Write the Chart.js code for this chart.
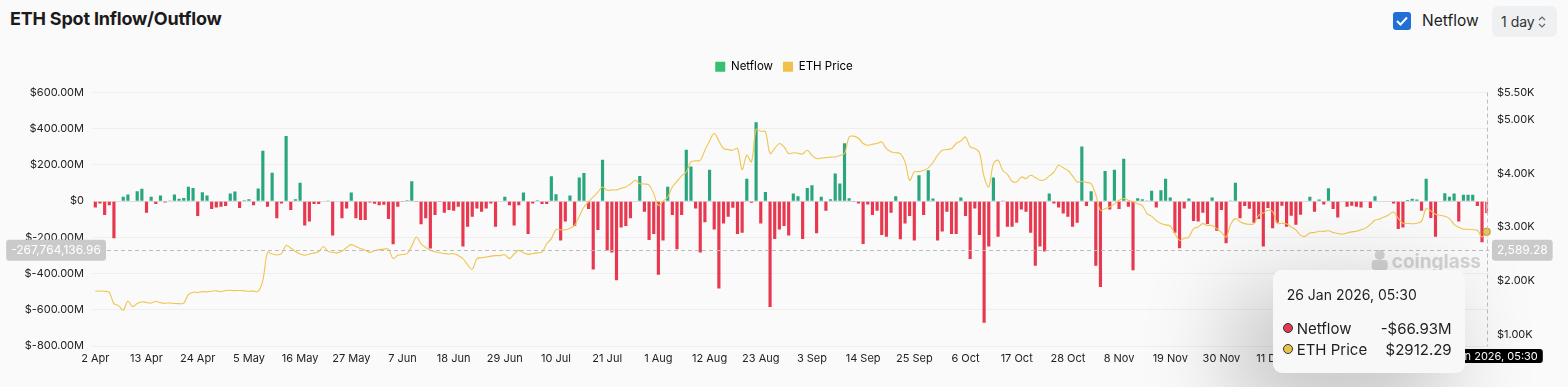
<!DOCTYPE html>
<html>
<head>
<meta charset="utf-8">
<title>ETH Spot Inflow/Outflow</title>
<script src="https://cdn.jsdelivr.net/npm/chart.js@4.4.1/dist/chart.umd.min.js"></script>
<style>
  html, body { margin: 0; padding: 0; width: 1568px; height: 387px; overflow: hidden; background: #fafafa; font-family: Inter, "Noto Sans", sans-serif; }
  #title { position: absolute; left: 10px; top: 8px; font-size: 18px; font-weight: 700; color: #1b1b1b; letter-spacing: -0.2px; }
  #chk { position: absolute; left: 1393px; top: 12px; width: 18px; height: 18px; background: #1f6fd6; border-radius: 3px; }
  #chk svg { position: absolute; left: 3px; top: 4px; }
  #nfLabel { position: absolute; left: 1422px; top: 11px; font-size: 15.5px; color: #222; }
  #sel { position: absolute; left: 1492px; top: 6px; width: 65px; height: 31px; background: #eff0f2; border-radius: 6px; }
  #sel span { position: absolute; left: 9px; top: 7px; font-size: 14px; color: #333; }
  #sel svg { position: absolute; left: 46px; top: 10px; }
  #wrap { position: absolute; left: 0; top: 40px; width: 1568px; height: 347px; }
  #tip { position: absolute; width: 192px; height: 103px; background: #f8f8f8; border-radius: 9px;
         box-shadow: -30px 30px 90px 10px rgba(0,0,0,0.22); font-family: Inter, "Noto Sans", sans-serif; color: #1e1e1e; }
  #tip .tt { position: absolute; left: 14px; top: 16px; font-size: 14px; }
  #tip .row { position: absolute; left: 10px; right: 13px; font-size: 15px; }
  #tip .dot { display: inline-block; width: 8px; height: 8px; border-radius: 50%; border: 1px solid #333; margin-right: 4px; vertical-align: 1px; }
  #tip .val { position: absolute; right: 0; top: 0; }
</style>
</head>
<body>
<div id="title">ETH Spot Inflow/Outflow</div>
<div id="chk"><svg width="12" height="10" viewBox="0 0 12 10"><path d="M1 5 L4.5 8.5 L11 1.5" stroke="#fff" stroke-width="2" fill="none"/></svg></div>
<div id="nfLabel">Netflow</div>
<div id="sel"><span>1 day</span><svg width="8" height="12" viewBox="0 0 8 12"><path d="M1 4 L4 1 L7 4 M1 8 L4 11 L7 8" stroke="#666" stroke-width="1.2" fill="none"/></svg></div>
<div id="wrap">
  <canvas id="flowChart" width="1568" height="347"></canvas>
  <div id="tip">
    <div class="tt" id="tipTitle"></div>
    <div class="row" style="top:49px"><span class="dot" style="background:#e8384f"></span>Netflow<span class="val" id="tipFlow"></span></div>
    <div class="row" style="top:70px"><span class="dot" style="background:#e9c349"></span>ETH Price<span class="val" id="tipPrice"></span></div>
  </div>
</div>
<script>
// daily netflow, millions of USD (2 Apr 2025 -> 26 Jan 2026)
const netflow = [
  -35, -13, -77, -22, -205, -4, 24, 37, 2, 55,
  68, -64, 24, -16, 31, -7, 3, 37, 13, 18,
  79, 73, -82, 49, 31, -44, -35, -31, -27, 42,
  53, -38, 5, 11, -22, 70, 278, -31, 157, -95,
  -13, 360, -49, 11, 102, -135, -113, -16, -16, -3,
  4, -190, -3, -95, -40, 48, -95, -104, -104, -7,
  -15, -22, -20, -99, -238, -31, -5, 5, 110, -5,
  -128, -95, -262, -77, -5, -64, -49, -53, -31, -251,
  -141, -86, -40, -59, -40, -13, -141, -3, 24, -22,
  -135, -22, 48, -181, -13, 5, -16, -16, 137, 38,
  -218, -113, 31, -137, 130, 156, -44, -377, -159, 229,
  -273, -284, -437, -145, -137, -95, -3, 139, -59, -214,
  -181, -406, -218, 79, -77, -265, -77, 284, 192, -40,
  -284, -117, 174, -156, -483, -123, -86, -37, -181, -174,
  124, -9, 436, -123, 51, -584, -209, -156, -137, -190,
  42, 27, -209, 73, 88, -178, 24, -53, 11, 152,
  97, 320, 16, -5, -13, -236, -18, -77, -53, -187,
  -196, -64, 27, -210, -123, -82, -218, 143, -77, 170,
  15, -218, -168, -59, -181, -181, 20, -82, -320, -40,
  -187, -672, -251, 130, -196, 3, -141, -141, -119, -46,
  -59, -174, -357, -251, -278, 42, -13, -35, -68, -86,
  -141, -119, 302, -27, 55, -357, -474, 167, -46, 174,
  -44, 234, -31, -382, 16, 11, 3, 57, -35, 60,
  123, 20, -174, -260, -40, 15, -110, -113, -64, -126,
  20, -163, -49, -232, 4, 101, -95, -27, -42, -120,
  -99, -251, -38, -150, -119, -26, -141, -81, -130, -75,
  -3, 24, -59, 9, -18, 71, -44, -90, -4, -31,
  -26, -31, -35, -4, -38, 27, -3, -3, -3, -13,
  -154, -145, 7, 13, 9, -53, 123, -93, -196, -4,
  44, 24, 42, -113, 35, 35, 35, -27, -227, -66.93
];

// ETH price, USD
const ethPrice = [
  1805, 1812, 1808, 1785, 1578, 1540, 1455, 1625, 1522, 1578,
  1612, 1598, 1588, 1622, 1595, 1585, 1590, 1580, 1578, 1585,
  1745, 1790, 1785, 1800, 1795, 1808, 1815, 1800, 1820, 1825,
  1818, 1822, 1815, 1808, 1810, 1805, 2010, 2530, 2500, 2480,
  2505, 2660, 2610, 2545, 2500, 2475, 2500, 2520, 2540, 2640,
  2550, 2530, 2520, 2550, 2620, 2673, 2640, 2600, 2570, 2530,
  2560, 2580, 2590, 2590, 2413, 2474, 2490, 2505, 2650, 2815,
  2690, 2620, 2567, 2540, 2524, 2510, 2500, 2505, 2470, 2413,
  2300, 2214, 2413, 2430, 2443, 2460, 2470, 2470, 2486, 2413,
  2500, 2567, 2520, 2493, 2510, 2520, 2536, 2690, 2785, 2952,
  2950, 2950, 2980, 3032, 3200, 3373, 3470, 3559, 3650, 3745,
  3683, 3690, 3690, 3720, 3745, 3800, 3869, 3807, 3800, 3780,
  3621, 3404, 3480, 3559, 3745, 3850, 3950, 4024, 4210, 4230,
  4240, 4427, 4600, 4737, 4600, 4458, 4440, 4427, 4458, 4068,
  4334, 4210, 4812, 4780, 4770, 4365, 4460, 4552, 4490, 4365,
  4380, 4370, 4360, 4427, 4334, 4272, 4280, 4290, 4300, 4303,
  4330, 4365, 4674, 4690, 4650, 4552, 4520, 4540, 4552, 4580,
  4458, 4400, 4380, 4365, 4210, 3869, 4024, 4030, 4050, 4100,
  4200, 4334, 4427, 4440, 4458, 4552, 4600, 4674, 4489, 4458,
  4380, 3931, 3745, 4179, 4240, 4050, 3980, 3851, 3838, 3931,
  3900, 3962, 3920, 3870, 3880, 3950, 4020, 4148, 4100, 4055,
  3950, 3838, 3850, 3830, 3807, 3600, 3311, 3340, 3373, 3430,
  3497, 3530, 3500, 3466, 3435, 3400, 3250, 3200, 3120, 3064,
  3040, 3020, 2878, 2753, 2790, 2815, 2971, 3000, 3064, 3030,
  3030, 2971, 2900, 2815, 3050, 3157, 3100, 3064, 3051, 3064,
  3218, 3260, 3311, 3290, 3070, 3070, 3060, 3001, 2946, 2846,
  2830, 2890, 2900, 2921, 2920, 2930, 2900, 2880, 2870, 2890,
  2910, 2921, 2950, 2980, 3050, 3125, 3150, 3187, 3230, 3280,
  3160, 3070, 3070, 3060, 3070, 3110, 3342, 3300, 3237, 3220,
  3200, 3156, 3050, 2995, 2960, 2960, 2950, 2940, 2815, 2912.29
];

const priceTicks = [1000, 2000, 3000, 4000, 5000, 5500];
const monthNames = ['Jan','Feb','Mar','Apr','May','Jun','Jul','Aug','Sep','Oct','Nov','Dec'];

// one category per day, starting 2 Apr 2025
const categories = [];
const fullDates = [];
for (let i = 0; i < netflow.length; i++) {
  const d = new Date(Date.UTC(2025, 3, 2 + i));
  categories.push(d.getUTCDate() + ' ' + monthNames[d.getUTCMonth()]);
  fullDates.push(d.getUTCDate() + ' ' + monthNames[d.getUTCMonth()] + ' ' + d.getUTCFullYear() + ', 05:30');
}

// mouse position in the screenshot
const crosshair = { netflow: -267764136.96, price: 2589.28 };

const GREEN = '#2aa67f';
const RED = '#e8384f';
const YELLOW = '#efc54f';
const last = netflow.length - 1;

document.getElementById('tipTitle').textContent = fullDates[last];
document.getElementById('tipFlow').textContent = (netflow[last] < 0 ? '-$' : '$') + Math.abs(netflow[last]).toFixed(2) + 'M';
document.getElementById('tipPrice').textContent = '$' + ethPrice[last].toFixed(2);

function labelBox(c, text, x, y, w, h, bg) {
  c.fillStyle = bg;
  c.beginPath();
  c.roundRect(x, y, w, h, 3);
  c.fill();
  c.fillStyle = '#fff';
  c.textAlign = 'center';
  c.textBaseline = 'middle';
  c.fillText(text, x + w / 2, y + h / 2 + 0.5);
}

// extra room under the legend
const legendGap = {
  id: 'legendGap',
  beforeInit(chart) {
    const fit = chart.legend.fit;
    chart.legend.fit = function () {
      fit.bind(chart.legend)();
      this.height += 10;
    };
  }
};

const overlayPlugin = {
  id: 'overlay',
  beforeDatasetsDraw(chart) {
    const c = chart.ctx, a = chart.chartArea;
    c.save();
    c.fillStyle = '#d3d3d3';
    c.font = '700 19px Inter, sans-serif';
    c.textAlign = 'right';
    c.textBaseline = 'alphabetic';
    c.fillText('coinglass', a.right - 8, a.bottom - 78);
    const tw = c.measureText('coinglass').width;
    const ix = a.right - 8 - tw - 12;
    c.beginPath();
    c.arc(ix, a.bottom - 91, 5, 0, Math.PI * 2);
    c.fill();
    c.beginPath();
    c.roundRect(ix - 8, a.bottom - 86, 16, 10, 3);
    c.fill();
    c.restore();
  },
  afterDatasetsDraw(chart) {
    const c = chart.ctx, a = chart.chartArea;
    const x = chart.scales.x.getPixelForValue(last);
    const y = chart.scales.y.getPixelForValue(crosshair.netflow / 1e6);
    c.save();
    c.strokeStyle = '#bdbdbd';
    c.lineWidth = 1;
    c.setLineDash([4, 3]);
    c.beginPath();
    c.moveTo(a.left, Math.round(y) + 0.5);
    c.lineTo(a.right, Math.round(y) + 0.5);
    c.moveTo(Math.round(x) + 0.5, a.top);
    c.lineTo(Math.round(x) + 0.5, a.bottom);
    c.stroke();
    c.restore();
  },
  afterDraw(chart) {
    const c = chart.ctx, a = chart.chartArea;
    const x = chart.scales.x.getPixelForValue(last);
    const y = chart.scales.y.getPixelForValue(crosshair.netflow / 1e6);
    c.save();
    c.font = '12px Inter, sans-serif';
    const leftText = crosshair.netflow.toLocaleString('en-US', { minimumFractionDigits: 2, maximumFractionDigits: 2 });
    const lw = c.measureText(leftText).width + 10;
    labelBox(c, leftText, a.left + 13 - lw, y - 10, lw, 21, '#cacaca');
    const rightText = crosshair.price.toLocaleString('en-US', { minimumFractionDigits: 2, maximumFractionDigits: 2 });
    const rw = c.measureText(rightText).width + 10;
    labelBox(c, rightText, a.right + 3, y - 10, rw, 21, '#cacaca');
    c.font = '11px Inter, sans-serif';
    const bw = c.measureText(fullDates[last]).width + 10;
    labelBox(c, fullDates[last], x - bw / 2, a.bottom + 3, bw, 14, '#000');
    c.restore();

    const tip = document.getElementById('tip');
    tip.style.left = (x - 22 - tip.offsetWidth) + 'px';
    tip.style.top = (y + 20) + 'px';
  }
};

Chart.defaults.font.family = 'Inter, "Noto Sans", sans-serif';
Chart.defaults.color = '#222';

const chart = new Chart(document.getElementById('flowChart').getContext('2d'), {
  type: 'bar',
  data: {
    labels: categories,
    datasets: [
      {
        type: 'line',
        label: 'ETH Price',
        data: ethPrice,
        yAxisID: 'y1',
        borderColor: YELLOW,
        backgroundColor: YELLOW,
        borderWidth: 1.1,
        tension: 0.35,
        pointRadius: ctx => ctx.dataIndex === last ? 3.5 : 0,
        pointBackgroundColor: YELLOW,
        pointBorderColor: '#b89a3c',
        order: 0
      },
      {
        label: 'Netflow',
        data: netflow,
        yAxisID: 'y',
        backgroundColor: ctx => {
          if (ctx.dataIndex === last) return 'rgba(232,56,79,0.45)';
          return ctx.raw >= 0 ? GREEN : RED;
        },
        borderColor: ctx => ctx.dataIndex === last ? RED : 'rgba(0,0,0,0)',
        borderWidth: ctx => ctx.dataIndex === last ? 1 : 0,
        barPercentage: 0.68,
        categoryPercentage: 1,
        order: 1
      }
    ]
  },
  options: {
    responsive: false,
    animation: false,
    layout: { padding: { top: 11, left: 0, right: 0, bottom: 0 } },
    plugins: {
      legend: {
        display: true,
        position: 'top',
        labels: {
          boxWidth: 10,
          boxHeight: 10,
          padding: 10,
          color: '#555',
          font: { size: 11.5 },
          generateLabels: () => [
            { text: 'Netflow', fillStyle: '#36c172', strokeStyle: '#36c172', lineWidth: 0, datasetIndex: 1 },
            { text: 'ETH Price', fillStyle: '#f0c04a', strokeStyle: '#f0c04a', lineWidth: 0, datasetIndex: 0 }
          ]
        }
      },
      tooltip: { enabled: false }
    },
    scales: {
      x: {
        grid: { display: false, drawTicks: false },
        border: { display: false },
        ticks: {
          autoSkip: false,
          maxRotation: 0,
          padding: 6,
          font: { size: 11 },
          color: '#222',
          callback: (v, i) => i % 11 === 0 ? categories[i] : ''
        },
        afterFit: s => { s.height = 41; }
      },
      y: {
        position: 'left',
        min: -800,
        max: 600,
        ticks: {
          stepSize: 200,
          padding: 9,
          font: { size: 11 },
          color: '#222',
          callback: v => v === 0 ? '$0' : '$' + v.toFixed(2) + 'M'
        },
        grid: {
          drawTicks: false,
          color: ctx => ctx.tick.value === 0 ? '#dcdcdc' : '#eeeeee'
        },
        border: { display: false },
        afterFit: s => { s.width = 93; }
      },
      y1: {
        position: 'right',
        min: 790,
        max: 5500,
        afterBuildTicks: s => { s.ticks = priceTicks.map(v => ({ value: v })); },
        ticks: {
          padding: 8,
          font: { size: 11 },
          color: '#222',
          callback: v => '$' + (v / 1000).toFixed(2) + 'K'
        },
        grid: { display: false, drawTicks: false },
        border: { display: false },
        afterFit: s => { s.width = 79; }
      }
    }
  },
  plugins: [legendGap, overlayPlugin]
});
</script>
</body>
</html>
